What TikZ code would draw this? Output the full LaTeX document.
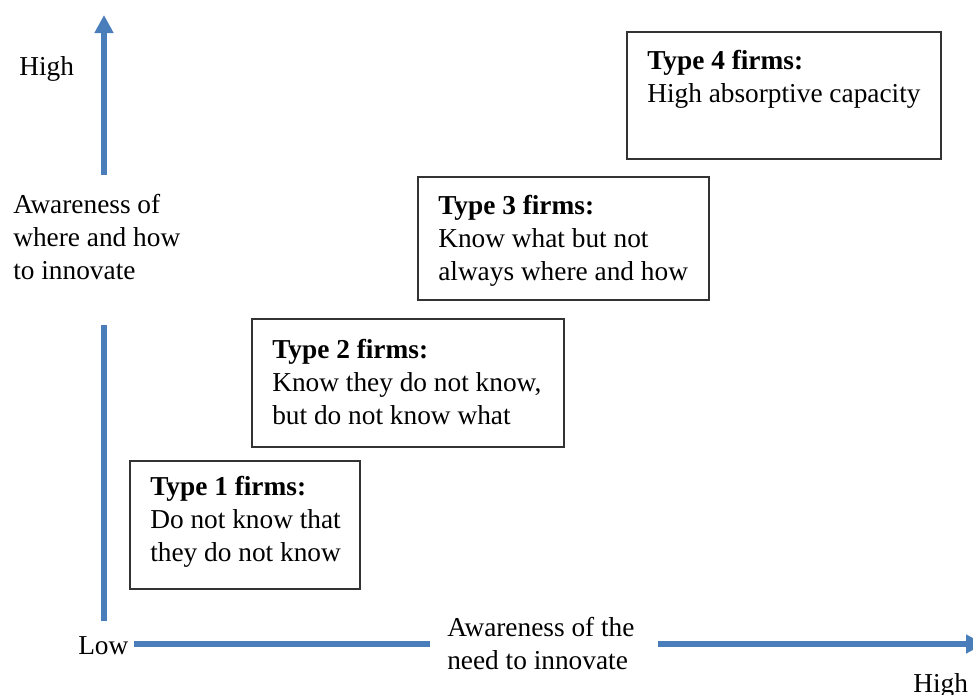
\documentclass[tikz,border=0pt]{standalone}
\usepackage{fontspec}
\setmainfont{Liberation Serif}
\usetikzlibrary{arrows.meta,positioning}
\definecolor{axisblue}{RGB}{74,126,187}
\begin{document}
\begin{tikzpicture}[x=0.75pt,y=-0.75pt,
	font=\fontsize{20.5}{24.75}\selectfont,
	axis/.style={draw=axisblue,line width=4.5pt},
	axistip/.style={axis,-{Triangle[width=13.5pt,length=13.5pt]}},
	firmbox/.style={draw=black!80,line width=1pt,inner sep=0pt},
	lbl/.style={inner sep=0pt,align=left,anchor=base west}]
			\useasboundingbox (0,0) rectangle (973,694);
			
			% boxes (sizes in pt, 1px = 0.75pt)
			\begin{scope}[every node/.style={firmbox}]
			\node (B1) at (245,525) [minimum width=172.5pt,minimum height=96pt]{};
			\node (B2) at (408,383) [minimum width=234pt,minimum height=96pt]{};
			\node (B3) at (563.5,238.5) [minimum width=218.25pt,minimum height=92.25pt]{};
			\node (B4) at (784,95.5) [minimum width=235.5pt,minimum height=95.25pt]{};
			\end{scope}
			
			% texts, placed at the baseline of their last line
			\node[lbl] (T1) at (150,561) {\textbf{Type 1 firms:}\\Do not know that\\they do not know};
			\node[lbl] (T2) at (272,424) {\textbf{Type 2 firms:}\\Know they do not know,\\but do not know what};
			\node[lbl] (T3) at (438,280) {\textbf{Type 3 firms:}\\Know what but not\\always where and how};
			\node[lbl] (T4) at (647,102) {\textbf{Type 4 firms:}\\High absorptive capacity};
			
			\node[lbl] (yhigh) at (19,75) {High};
			\node[lbl] (ytitle) at (13,279) {Awareness of\\where and how\\to innovate};
			\node[lbl] (low) at (78,654) {Low};
			\node[lbl] (xtitle) at (447,669) {Awareness of the\\need to innovate};
			\node[lbl] (xhigh) at (913,692) {High};
			
			\coordinate (ybot) at (104,621);
			\coordinate (ymid) at (104,325);
			\coordinate (ystart) at (104,175);
			\coordinate (ytop) at (104,15);
			\coordinate (xleft) at (134,644);
			\coordinate (xmid) at (430,644);
			\coordinate (xstart) at (658,644);
			\coordinate (xend) at (984,644);
			
			\draw[axis] (ybot) -- (ymid);
			\draw[axistip] (ystart) -- (ytop);
			\draw[axis] (xleft) -- (xmid);
			\draw[axistip] (xstart) -- (xend);
\end{tikzpicture}
\end{document}
